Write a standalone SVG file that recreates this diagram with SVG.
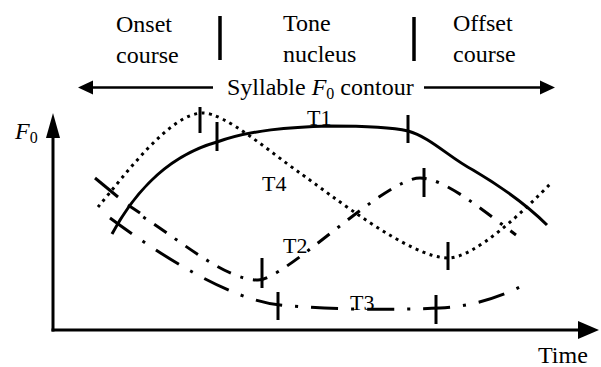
<svg xmlns="http://www.w3.org/2000/svg" width="601" height="367" viewBox="0 0 601 367">
<style>
text{font-family:"Liberation Serif","Times New Roman",serif;fill:#000}
.hd{font-size:24px}
.lb{font-size:22px}
.ax{stroke:#000;stroke-width:3;fill:none}
.tk{stroke:#000;stroke-width:3;fill:none}
.c{fill:none;stroke:#000;stroke-width:3}
.t4{stroke-dasharray:3 4.5}
.t2{stroke-dasharray:15 10 3 10}
.t3{stroke-dasharray:27 13 3 13}
</style>
<rect width="601" height="367" fill="#fff"/>
<g id="header">
<text class="hd" x="116" y="32">Onset</text>
<text class="hd" x="116" y="63">course</text>
<line class="tk" x1="220" y1="16" x2="220" y2="60" style="stroke-width:3.5"/>
<text class="hd" x="283" y="31">Tone</text>
<text class="hd" x="283" y="62">nucleus</text>
<line class="tk" x1="414" y1="17" x2="414" y2="61" style="stroke-width:3.5"/>
<text class="hd" x="453" y="31">Offset</text>
<text class="hd" x="453" y="62">course</text>
</g>
<g id="span">
<line x1="92" y1="87.5" x2="213" y2="87.5" stroke="#000" stroke-width="2.5"/>
<polygon points="78,87.5 93,80.5 93,94.5" fill="#000"/>
<line x1="424" y1="87.5" x2="541" y2="87.5" stroke="#000" stroke-width="2.5"/>
<polygon points="555,87.5 540,80.5 540,94.5" fill="#000"/>
<text class="hd" x="227" y="95">Syllable <tspan font-style="italic">F</tspan><tspan font-size="16" dy="4">0</tspan><tspan dy="-4"> contour</tspan></text>
</g>
<g id="axes">
<line class="ax" x1="53" y1="331.5" x2="53" y2="136"/>
<polygon points="53,113 46,138 60,138" fill="#000"/>
<line class="ax" x1="51.5" y1="330" x2="580" y2="330"/>
<polygon points="599,330 578,321 578,339" fill="#000"/>
<text class="hd" x="15" y="139"><tspan font-style="italic">F</tspan><tspan font-size="16" dy="4">0</tspan></text>
<text class="hd" x="538" y="363">Time</text>
</g>
<g id="curves">
<path id="T1" class="c" d="M112,234 C128,204 160,158 217,142 C250,130 290,127 330,126 C370,126 395,128 408,131 C430,137 450,158 473,170 C495,183 525,203 547,225"/>
<path id="T4" class="c t4" d="M98,207 C125,175 170,113 203,113 C225,113 270,152 300,173 C330,194 410,258 448,258 C475,258 525,210 552,182"/>
<path id="T2" class="c t2" stroke-dashoffset="-17" d="M140,215 C180,240 225,280 258,280 C285,280 385,178 420,178 C445,178 485,212 516,235"/>
<path id="T3" class="c t3" d="M110,218 C160,255 230,300 280,305 C330,310 400,310 440,308 C470,307 500,297 522,286"/>
</g>
<g id="ticks">
<line class="tk" x1="95" y1="178" x2="118" y2="197"/>
<line class="tk" x1="128" y1="205" x2="140" y2="213"/>
<line class="tk" x1="200" y1="107" x2="200" y2="133"/>
<line class="tk" x1="217" y1="122" x2="217" y2="151"/>
<line class="tk" x1="408" y1="115" x2="408" y2="143"/>
<line class="tk" x1="262" y1="258" x2="262" y2="288"/>
<line class="tk" x1="424" y1="168" x2="424" y2="197"/>
<line class="tk" x1="278" y1="292" x2="278" y2="320"/>
<line class="tk" x1="436" y1="295" x2="436" y2="324"/>
<line class="tk" x1="448" y1="242" x2="448" y2="270"/>
</g>
<g id="labels">
<text class="lb" x="307" y="125">T1</text>
<text class="lb" x="262" y="191">T4</text>
<text class="lb" x="283" y="253">T2</text>
<text class="lb" x="350" y="310">T3</text>
</g>
</svg>
